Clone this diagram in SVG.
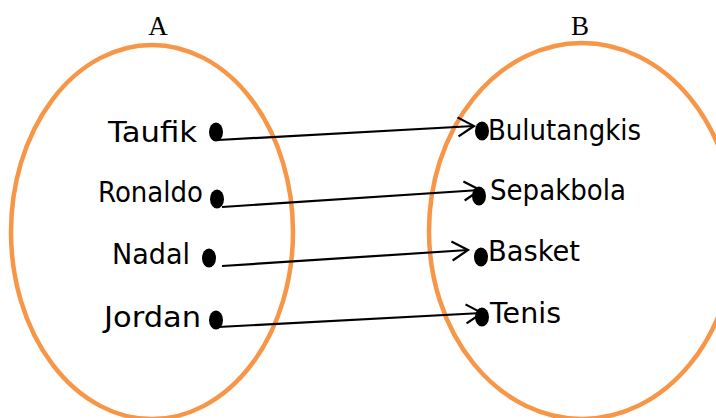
<svg xmlns="http://www.w3.org/2000/svg" width="716" height="418" viewBox="0 0 716 418">
  <style>
    .set { fill: none; stroke: #F79646; stroke-width: 4.5; }
    .title { font-family: "Liberation Serif", serif; font-size: 27px; fill: #000; text-anchor: middle; }
    .item { font-family: "DejaVu Sans", "Open Sans", sans-serif; font-size: 28px; fill: #000; }
    .dot { fill: #000; }
    .link { stroke: #000; stroke-width: 2.2; fill: none; marker-end: url(#open); }
  </style>
  <defs>
    <marker id="open" viewBox="0 0 20 22" refX="18" refY="11" markerWidth="20" markerHeight="22" markerUnits="userSpaceOnUse" orient="auto">
      <path d="M2,1.5 L18,11 L2,20.5" fill="none" stroke="#000" stroke-width="2.2"/>
    </marker>
  </defs>
  <rect width="716" height="418" fill="#fff"/>

  <g id="setA">
    <ellipse class="set" cx="152" cy="232" rx="141" ry="187"/>
    <text class="title" x="158" y="35">A</text>
  </g>
  <g id="setB">
    <ellipse class="set" cx="582" cy="231" rx="153" ry="188"/>
    <text class="title" x="580" y="35">B</text>
  </g>

  <g id="taufik">
    <text class="item" x="108" y="142" textLength="89" lengthAdjust="spacingAndGlyphs">Taufik</text>
    <ellipse class="dot" cx="216" cy="132" rx="7" ry="9.5"/>
  </g>
  <g id="ronaldo">
    <text class="item" x="98" y="202" textLength="105" lengthAdjust="spacingAndGlyphs">Ronaldo</text>
    <ellipse class="dot" cx="217" cy="199" rx="7" ry="9.5"/>
  </g>
  <g id="nadal">
    <text class="item" x="112" y="264" textLength="78" lengthAdjust="spacingAndGlyphs">Nadal</text>
    <ellipse class="dot" cx="209" cy="258" rx="7" ry="9.5"/>
  </g>
  <g id="jordan">
    <text class="item" x="104" y="327" textLength="97" lengthAdjust="spacingAndGlyphs">Jordan</text>
    <ellipse class="dot" cx="216" cy="320" rx="7" ry="9.5"/>
  </g>

  <g id="bulutangkis">
    <ellipse class="dot" cx="482" cy="131" rx="7" ry="9.5"/>
    <text class="item" x="488" y="140" textLength="153" lengthAdjust="spacingAndGlyphs">Bulutangkis</text>
  </g>
  <g id="sepakbola">
    <ellipse class="dot" cx="479" cy="196" rx="7" ry="9.5"/>
    <text class="item" x="490" y="200" textLength="136" lengthAdjust="spacingAndGlyphs">Sepakbola</text>
  </g>
  <g id="basket">
    <ellipse class="dot" cx="481" cy="257" rx="7" ry="9.5"/>
    <text class="item" x="488" y="261" textLength="92" lengthAdjust="spacingAndGlyphs">Basket</text>
  </g>
  <g id="tenis">
    <ellipse class="dot" cx="482" cy="317" rx="7" ry="9.5"/>
    <text class="item" x="490" y="323" textLength="71" lengthAdjust="spacingAndGlyphs">Tenis</text>
  </g>

  <g id="connectors">
    <line class="link" x1="218" y1="140" x2="474" y2="126"/>
    <line class="link" x1="222" y1="207" x2="480" y2="190"/>
    <line class="link" x1="222" y1="266" x2="468" y2="250"/>
    <line class="link" x1="218" y1="327" x2="482" y2="313"/>
  </g>
</svg>
